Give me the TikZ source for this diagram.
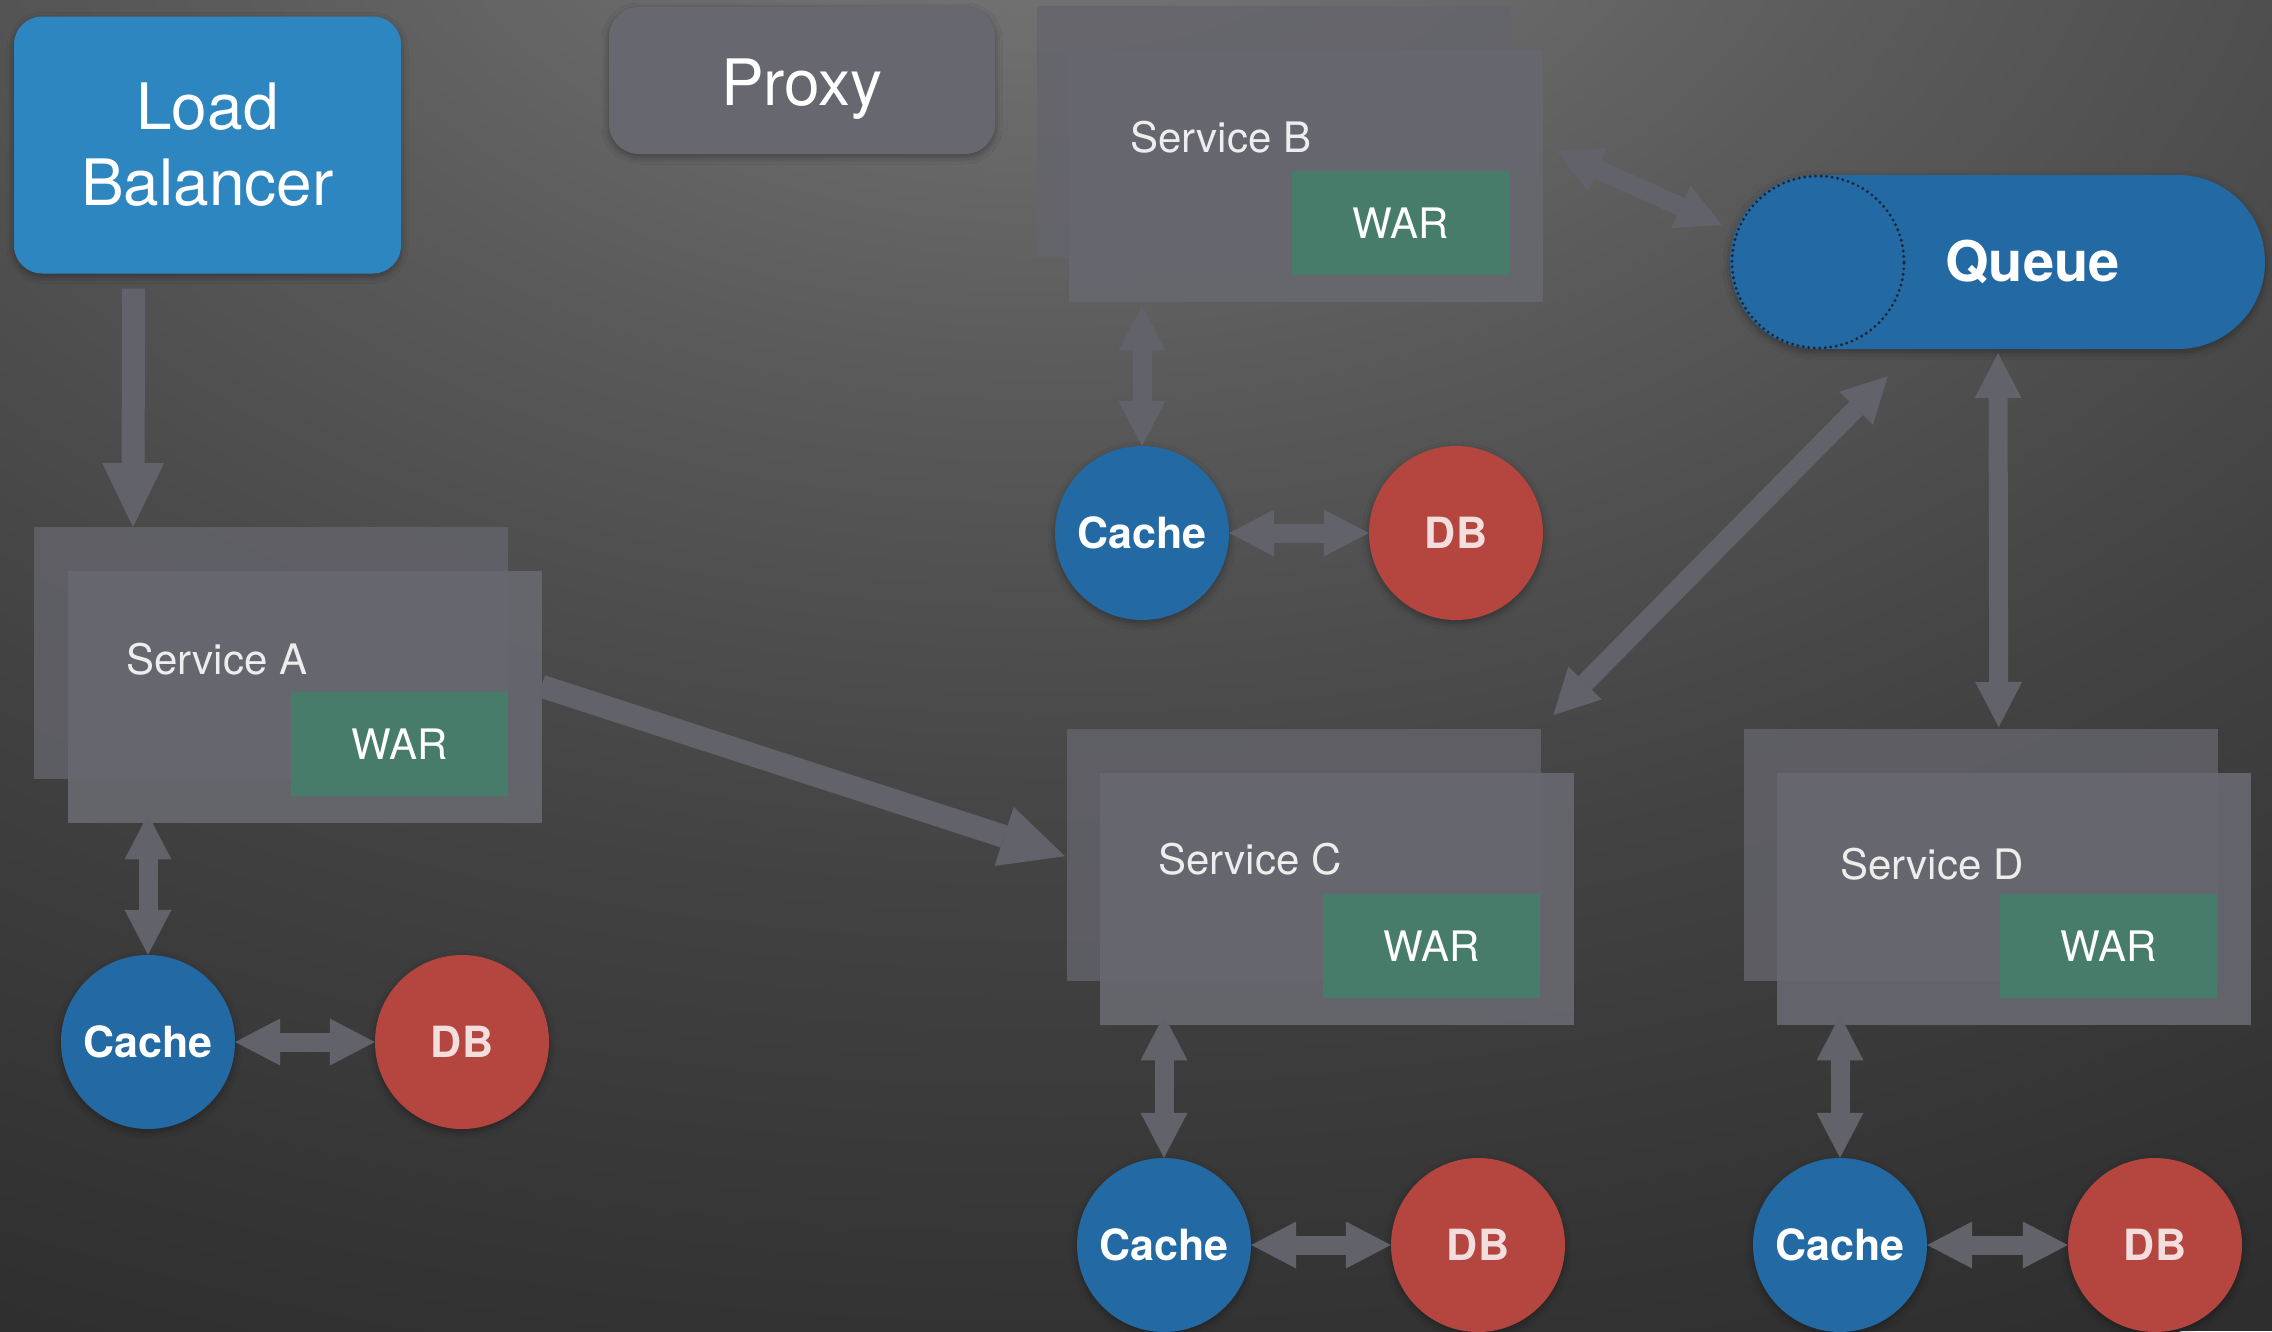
\documentclass[tikz,border=0pt]{standalone}
\usepackage{fontspec}
\setmainfont{TeX Gyre Heros}
\usetikzlibrary{arrows.meta,calc,shadows.blur}

\definecolor{lbblue}{HTML}{2E86C0}
\definecolor{nodeblue}{HTML}{2369A4}
\definecolor{dbred}{HTML}{B5453F}
\definecolor{wargreen}{HTML}{477C6B}
\definecolor{boxgray}{HTML}{67676F}
\definecolor{backgray}{HTML}{64646C}
\definecolor{proxygray}{HTML}{67676F}
\definecolor{arrowgray}{HTML}{62626B}
\definecolor{labelwhite}{HTML}{EDEDED}
\definecolor{dbtext}{HTML}{F3DEDE}
\definecolor{dotline}{HTML}{1E2530}
\definecolor{bgdark}{HTML}{2E2E2E}

% soft glow behind the whole canvas, brightest at the top centre
% (the path's bounding box spans -25bp..25bp of the shading)
\pgfdeclareradialshading{bgglow}{\pgfpoint{0bp}{0bp}}{%
  rgb(0bp)=(0.47,0.47,0.47);
  rgb(3bp)=(0.44,0.44,0.44);
  rgb(8.5bp)=(0.355,0.355,0.355);
  rgb(12bp)=(0.31,0.31,0.31);
  rgb(16bp)=(0.26,0.26,0.26);
  rgb(22bp)=(0.205,0.205,0.205);
  rgb(25bp)=(0.18,0.18,0.18);
  rgb(50bp)=(0.18,0.18,0.18)}

\begin{document}
\begin{tikzpicture}[x=1pt,y=-1pt,
  softshadow/.style={blur shadow={shadow xshift=0pt,shadow yshift=-3pt,
      shadow blur radius=7pt,shadow opacity=35}},
  lbbox/.style={fill=lbblue,rounded corners=28pt,minimum width=387pt,
      minimum height=257pt,inner sep=0pt,align=center,text=white,
      font=\fontsize{64}{76}\selectfont,softshadow},
  proxybox/.style={fill=proxygray,rounded corners=30pt,minimum width=386pt,
      minimum height=147pt,inner sep=0pt,text=white,text height=49pt,
      text depth=0pt,font=\fontsize{64}{76}\selectfont,softshadow},
  backbox/.style={fill=backgray,fill opacity=0.8,minimum width=474pt,
      minimum height=252pt,inner sep=0pt,anchor=north west},
  frontbox/.style={fill=boxgray,fill opacity=0.93,minimum width=474pt,
      minimum height=252pt,inner sep=0pt,anchor=north west},
  warbox/.style={fill=wargreen,minimum width=217pt,minimum height=104pt,
      inner sep=0pt,anchor=north west,text=white,
      font=\fontsize{42}{50}\selectfont},
  svclabel/.style={inner sep=0pt,anchor=base west,text=labelwhite,
      font=\fontsize{42}{50}\selectfont},
  cachenode/.style={circle,fill=nodeblue,minimum size=174pt,inner sep=0pt,
      text=white,font=\fontsize{43}{50}\selectfont\bfseries,softshadow},
  dbnode/.style={circle,fill=dbred,minimum size=174pt,inner sep=0pt,
      text=dbtext,font=\fontsize{43}{50}\selectfont\bfseries,softshadow},
  bigarrow/.style={draw=arrowgray,line width=23pt,
      -{Triangle[width=62pt,length=64pt,line width=0pt]}},
  duo/.style={draw=arrowgray,line width=19pt,
      {Triangle[width=47pt,length=45pt,line width=0pt]}-{Triangle[width=47pt,length=45pt,line width=0pt]}}]

% canvas
\useasboundingbox (0,0) rectangle (2272,1331);
\begin{scope}
  \clip (0,0) rectangle (2272,1331);
  \fill[bgdark] (0,0) rectangle (2272,1331);
  \shade[shading=bgglow] (1050,-200) ellipse [x radius=2600, y radius=1700];
\end{scope}

% entry points
\node[lbbox] (lb) at (207.5,145) {Load\\Balancer};
\node[proxybox] (proxy) at (802,80.5) {Proxy};

% Service A
\node[backbox] (aback) at (34,527) {};
\node[frontbox] (afront) at (68,571) {};
\node[warbox] (awar) at (291,692) {WAR};
\node[svclabel] (alabel) at (126,674) {Service A};
\node[cachenode] (acache) at (148,1042) {Cache};
\node[dbnode] (adb) at (462,1042) {DB};

% Service B
\node[backbox] (bback) at (1037,6) {};
\node[frontbox] (bfront) at (1069,50) {};
\node[warbox] (bwar) at (1292,171) {WAR};
\node[svclabel] (blabel) at (1130,152) {Service B};
\node[cachenode] (bcache) at (1142,533) {Cache};
\node[dbnode] (bdb) at (1456,533) {DB};

% Service C
\node[backbox] (cback) at (1067,729) {};
\node[frontbox] (cfront) at (1100,773) {};
\node[warbox] (cwar) at (1323,894) {WAR};
\node[svclabel] (clabel) at (1158,874) {Service C};
\node[cachenode] (ccache) at (1164,1245) {Cache};
\node[dbnode] (cdb) at (1478,1245) {DB};

% Service D
\node[backbox] (dback) at (1744,729) {};
\node[frontbox] (dfront) at (1777,773) {};
\node[warbox] (dwar) at (2000,894) {WAR};
\node[svclabel] (dlabel) at (1840,879) {Service D};
\node[cachenode] (dcache) at (1840,1245) {Cache};
\node[dbnode] (ddb) at (2155,1245) {DB};

% message queue drawn as a cylinder lying on its side
\node[fill=nodeblue,rounded corners=87pt,minimum width=535pt,minimum height=174pt,
      inner sep=0pt,text=white,font=\fontsize{56}{64}\selectfont\bfseries,softshadow]
      (queue) at (1997.5,262) {\hspace*{70pt}Queue};
\node[circle,draw=dotline,line width=3.2pt,dash pattern=on 0pt off 5.5pt,line cap=round,
      minimum size=172pt,inner sep=0pt] (queueend) at (1818,262) {};

% connectors
\draw[bigarrow] ($(lb.south)+(-74,15)$) -- ($(aback.north west)+(99,0)$);
\draw[bigarrow] ($(afront.east)+(-1,-11)$) -- ($(cback.west)+(-2,1)$);

\draw[duo] ($(acache.north |- afront.south)+(0,-9)$) -- (acache.north);
\draw[duo] (acache.east) -- (adb.west);

\draw[duo] ($(bcache.north |- bfront.south)+(0,3)$) -- (bcache.north);
\draw[duo] (bcache.east) -- (bdb.west);
\draw[duo] ($(bfront.north east)+(13,101)$) -- ($(queue.west)+(-8,-37)$);

\draw[duo] ($(queue.south west)+(158,27)$) -- ($(cfront.north east)+(-21,-58)$);
\draw[duo] ($(queue.south)+(0.5,4)$) -- ($(dback.north)+(17.5,-2)$);

\draw[duo] ($(ccache.north |- cfront.south)+(0,-10)$) -- (ccache.north);
\draw[duo] (ccache.east) -- (cdb.west);

\draw[duo] ($(dcache.north |- dfront.south)+(0,-10)$) -- (dcache.north);
\draw[duo] (dcache.east) -- (ddb.west);
\end{tikzpicture}
\end{document}
